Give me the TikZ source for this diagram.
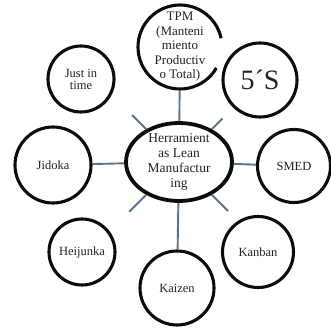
\documentclass[tikz,border=0pt]{standalone}
\usepackage{fontspec}
\setmainfont{Liberation Serif}
\usetikzlibrary{shapes.geometric}
\definecolor{spokeBlue}{RGB}{88,116,142}
\definecolor{ringInk}{RGB}{12,12,12}
\definecolor{labelInk}{RGB}{35,35,35}

\begin{document}
\begin{tikzpicture}[
    x=1pt, y=1pt,
    tool/.style={circle, draw=ringInk, line width=3.1pt, fill=white, inner sep=-12pt, align=center, font=\fontsize{12.5}{12}\selectfont, text=labelInk},
    hub/.style={ellipse, draw=ringInk, line width=3.8pt, fill=white, minimum width=106pt, minimum height=78pt, inner sep=-15pt, align=center, font=\fontsize{13.5}{15}\selectfont, text=labelInk},
    ring/.style={draw=ringInk, line width=3.1pt},
    spoke/.style={draw=spokeBlue, line width=1.9pt}
]
    \useasboundingbox (0,0) rectangle (331,328);

    \node[hub] (lean) at (179,166) {Herramient\\as Lean\\Manufactur\\ing};
    \node[tool, draw=none, minimum size=84pt, font=\fontsize{13}{14.5}\selectfont] (tpm) at (180,281) {TPM\\(Manteni\\miento\\Productiv\\o Total)};
    \draw[ring] ([shift={(12:42pt)}]tpm.center) arc[start angle=12, end angle=330, radius=42pt];
    \node[tool, minimum size=74pt, font=\fontsize{28}{30}\selectfont] (fiveS) at (260,248) {5´S};
    \node[tool, minimum size=66pt] (jit) at (81,249) {Just in\\time};
    \node[tool, minimum size=76pt] (jidoka) at (53,163) {Jidoka};
    \node[tool, minimum size=73pt] (smed) at (294,162) {SMED};
    \node[tool, minimum size=66pt] (heijunka) at (82,76) {Heijunka};
    \node[tool, minimum size=74pt] (kaizen) at (177,40) {Kaizen};
    \node[tool, minimum size=71pt] (kanban) at (258,76) {Kanban};

    \draw[spoke] (tpm) -- (lean);
    \draw[spoke] (lean) -- (smed);
    \draw[spoke] (jidoka) -- (lean);
    \draw[spoke] (lean) -- (kaizen);
    % short stubs on the diagonals
    \foreach \ang/\len [count=\i] in {135/20, 45/15, -135/24, -45/23}
        \draw[spoke] (lean.\ang) -- ++(\ang:\len) coordinate (stub\i);
\end{tikzpicture}
\end{document}
